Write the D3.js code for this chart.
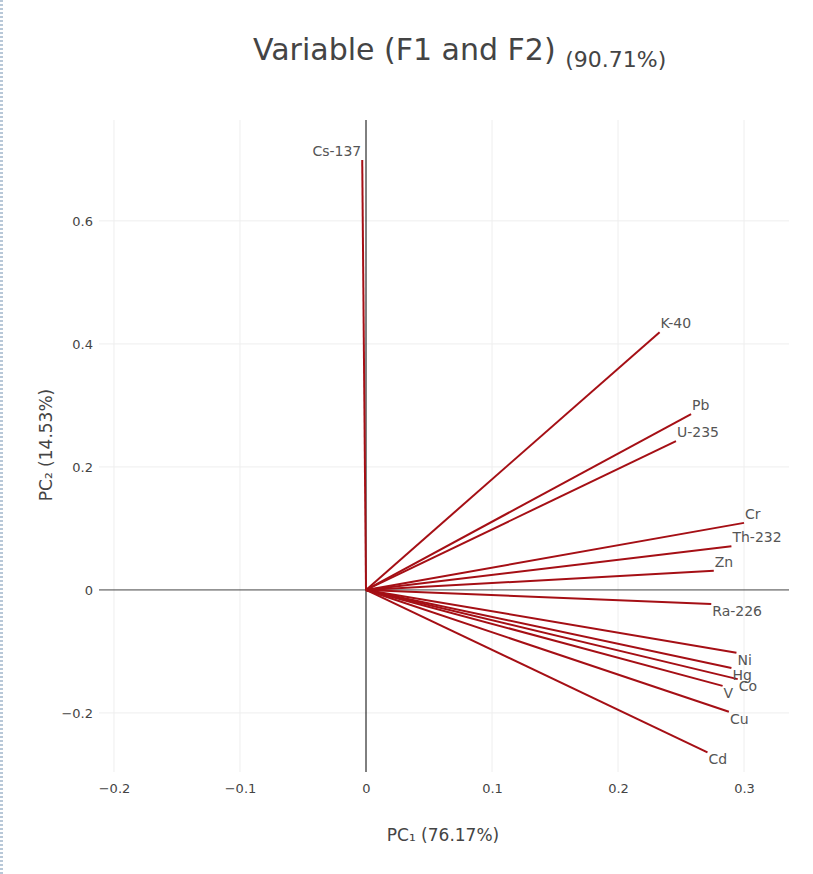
<!DOCTYPE html>
<html>
<head>
<meta charset="utf-8">
<script src="https://cdn.jsdelivr.net/npm/d3@7"></script>
<style>
  body { margin: 0; background: #fff; }
  svg { display: block; font-family: "DejaVu Sans", verdana, sans-serif; }
</style>
</head>
<body>
<script>
// loadings
const variables = ["Cs-137", "K-40", "Pb", "U-235", "Cr", "Th-232", "Zn", "Ra-226", "Ni", "Hg", "Co", "V", "Cu", "Cd"]
const pc1 = [-0.003, 0.233, 0.258, 0.246, 0.300, 0.290, 0.276, 0.274, 0.294, 0.290, 0.295, 0.283, 0.288, 0.271]
const pc2 = [0.699, 0.419, 0.286, 0.242, 0.109, 0.071, 0.031, -0.023, -0.102, -0.127, -0.145, -0.156, -0.198, -0.264]

const xTicks = [-0.2, -0.1, 0, 0.1, 0.2, 0.3]
const yTicks = [-0.2, 0, 0.2, 0.4, 0.6]

const W = 813, H = 874
const m = { left: 99, right: 789, top: 120, bottom: 772 }

const svg = d3.select("body").append("svg")
    .attr("width", W)
    .attr("height", H)

// dashed frame on the left edge
svg.append("line")
    .attr("x1", 1.5).attr("x2", 1.5)
    .attr("y1", 0).attr("y2", H)
    .attr("stroke", "#b8c8d8")
    .attr("stroke-width", 3)
    .attr("stroke-dasharray", "2,2")

const x = d3.scaleLinear()
    .domain([-0.2119, 0.3357])
    .range([m.left, m.right])

const y = d3.scaleLinear()
    .domain([-0.296, 0.764])
    .range([m.bottom, m.top])

const fmt = d => d === 0 ? "0" : d3.format(".1f")(d).replace("-", "\u2212")

// grid
svg.append("g").selectAll("line")
    .data(xTicks.filter(d => d !== 0))
    .join("line")
    .attr("x1", d => x(d)).attr("x2", d => x(d))
    .attr("y1", m.top).attr("y2", m.bottom)
    .attr("stroke", "#eee")

svg.append("g").selectAll("line")
    .data(yTicks.filter(d => d !== 0))
    .join("line")
    .attr("x1", m.left).attr("x2", m.right)
    .attr("y1", d => y(d)).attr("y2", d => y(d))
    .attr("stroke", "#eee")

// zero lines
svg.append("line")
    .attr("x1", m.left).attr("x2", m.right)
    .attr("y1", y(0)).attr("y2", y(0))
    .attr("stroke", "#444")
svg.append("line")
    .attr("x1", x(0)).attr("x2", x(0))
    .attr("y1", m.top).attr("y2", m.bottom)
    .attr("stroke", "#000")

// axes (labels only)
const xAxis = d3.axisBottom(x).tickValues(xTicks).tickFormat(fmt).tickSize(0).tickPadding(12)
const yAxis = d3.axisLeft(y).tickValues(yTicks).tickFormat(fmt).tickSize(0).tickPadding(6)

const gx = svg.append("g").attr("transform", `translate(0,${m.bottom})`).call(xAxis)
const gy = svg.append("g").attr("transform", `translate(${m.left},0)`).call(yAxis)
gx.select(".domain").remove()
gy.select(".domain").remove()
svg.selectAll(".tick text")
    .attr("fill", "#444")
    .style("font-size", "13px")
    .style("font-family", "\"DejaVu Sans\", verdana, sans-serif")

// vectors
const rows = variables.map((v, i) => ({ name: v, a: pc1[i], b: pc2[i] }))

svg.append("g").selectAll("line")
    .data(rows)
    .join("line")
    .attr("x1", x(0)).attr("y1", y(0))
    .attr("x2", d => x(d.a)).attr("y2", d => y(d.b))
    .attr("stroke", "#a50f15")
    .attr("stroke-width", 2)

svg.append("g").selectAll("text")
    .data(rows)
    .join("text")
    .attr("x", d => x(d.a) + (d.a < 0 ? -1 : 1))
    .attr("y", d => y(d.b) + (d.b >= 0 ? -4 : 12))
    .attr("text-anchor", d => d.a < 0 ? "end" : "start")
    .attr("fill", "#555")
    .style("font-size", "14px")
    .text(d => d.name)

// titles
const title = svg.append("text")
    .attr("x", 253).attr("y", 60)
    .attr("fill", "#444")
    .style("font-size", "30px")
title.append("tspan").text("Variable (F1 and F2) ")
title.append("tspan").attr("dy", 7).style("font-size", "22px").text("(90.71%)")

svg.append("text")
    .attr("x", 443).attr("y", 841)
    .attr("text-anchor", "middle")
    .attr("fill", "#444")
    .style("font-size", "17px")
    .text("PC\u2081 (76.17%)")

svg.append("text")
    .attr("transform", "translate(52,445) rotate(-90)")
    .attr("text-anchor", "middle")
    .attr("fill", "#444")
    .style("font-size", "17px")
    .text("PC\u2082 (14.53%)")
</script>
</body>
</html>
